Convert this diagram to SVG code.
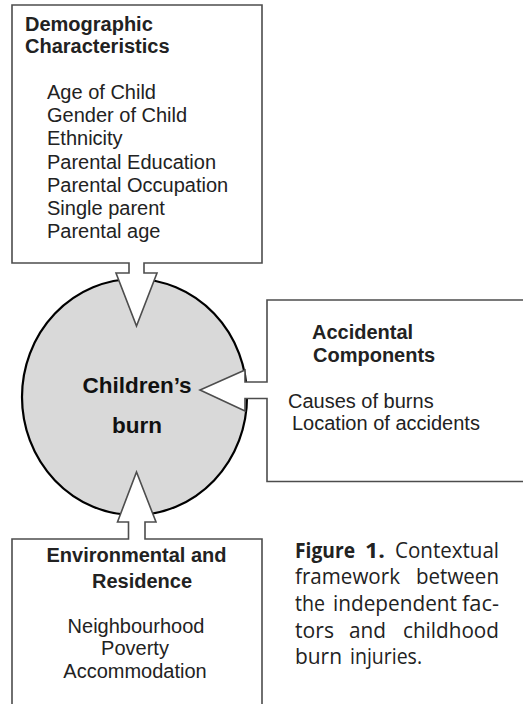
<svg xmlns="http://www.w3.org/2000/svg" width="523" height="704" viewBox="0 0 523 704">
<style>
.box{fill:#fff;stroke:#4d4d4d;stroke-width:1.6;stroke-linejoin:miter}
.hub{fill:#d9d9d9;stroke:#000;stroke-width:2.2}
.t{font-family:"Liberation Sans",Arial,sans-serif;font-size:20px;fill:#222}
.b{font-weight:bold}
.hubt{font-family:"Liberation Sans",Arial,sans-serif;font-size:22.5px;font-weight:bold;fill:#111;text-anchor:middle}
.m{text-anchor:middle}
.cap{font-family:"Open Sans","Liberation Sans",sans-serif;font-size:21px;fill:#222}
</style>
<g id="children-burn">
<ellipse class="hub" cx="134.5" cy="397" rx="112.5" ry="118"/>
</g>
<g id="connectors">
</g>
<g id="demographic">
<path class="box" d="M12,5 H262 V263 H144 V273 H157 L136.5,326 L116,273 H129 V263 H12 Z"/>
<text class="t b" x="25" y="31">Demographic</text>
<text class="t b" x="25" y="53">Characteristics</text>
<text class="t" x="47" y="99">Age of Child</text>
<text class="t" x="47" y="122.2">Gender of Child</text>
<text class="t" x="47" y="145.4">Ethnicity</text>
<text class="t" x="47" y="168.6">Parental Education</text>
<text class="t" x="47" y="191.8">Parental Occupation</text>
<text class="t" x="47" y="215">Single parent</text>
<text class="t" x="47" y="238.2">Parental age</text>
</g>
<g id="accidental">
<path class="box" d="M530,300 H267 V382 H245 V370 L200,390 L245,411 V398.5 H267 V481.5 H530"/>
<text class="t b" x="312" y="339">Accidental</text>
<text class="t b" x="313" y="362">Components</text>
<text class="t" x="288" y="408">Causes of burns</text>
<text class="t" x="292" y="430">Location of accidents</text>
</g>
<g id="environmental">
<path class="box" d="M12,712 V539 H128.5 V522 H117.5 L136.5,472 L156,522 H145 V539 H262 V712"/>
<text class="t b m" x="136.5" y="562">Environmental and</text>
<text class="t b m" x="142" y="588">Residence</text>
<text class="t m" x="136" y="633">Neighbourhood</text>
<text class="t m" x="135" y="655">Poverty</text>
<text class="t m" x="135" y="678">Accommodation</text>
</g>
<g id="children-burn-label">
<text class="hubt" x="137" y="393">Children’s</text>
<text class="hubt" x="137" y="433">burn</text>
</g>
<g id="caption">
<text class="cap b" x="295" y="557.5" textLength="60" lengthAdjust="spacingAndGlyphs">Figure</text>
<text class="cap b" x="365" y="557.5" textLength="20" lengthAdjust="spacingAndGlyphs">1.</text>
<text class="cap" x="395" y="557.5" textLength="104" lengthAdjust="spacingAndGlyphs">Contextual</text>
<text class="cap" x="295" y="584" textLength="105" lengthAdjust="spacingAndGlyphs">framework</text>
<text class="cap" x="416" y="584" textLength="83" lengthAdjust="spacingAndGlyphs">between</text>
<text class="cap" x="295" y="611" textLength="30" lengthAdjust="spacingAndGlyphs">the</text>
<text class="cap" x="333" y="611" textLength="124" lengthAdjust="spacingAndGlyphs">independent</text>
<text class="cap" x="462" y="611" textLength="37" lengthAdjust="spacingAndGlyphs">fac-</text>
<text class="cap" x="295" y="638" textLength="39" lengthAdjust="spacingAndGlyphs">tors</text>
<text class="cap" x="349" y="638" textLength="37" lengthAdjust="spacingAndGlyphs">and</text>
<text class="cap" x="403" y="638" textLength="96" lengthAdjust="spacingAndGlyphs">childhood</text>
<text class="cap" x="295" y="664" textLength="47" lengthAdjust="spacingAndGlyphs">burn</text>
<text class="cap" x="350" y="664" textLength="72" lengthAdjust="spacingAndGlyphs">injuries.</text>
</g>
</svg>
